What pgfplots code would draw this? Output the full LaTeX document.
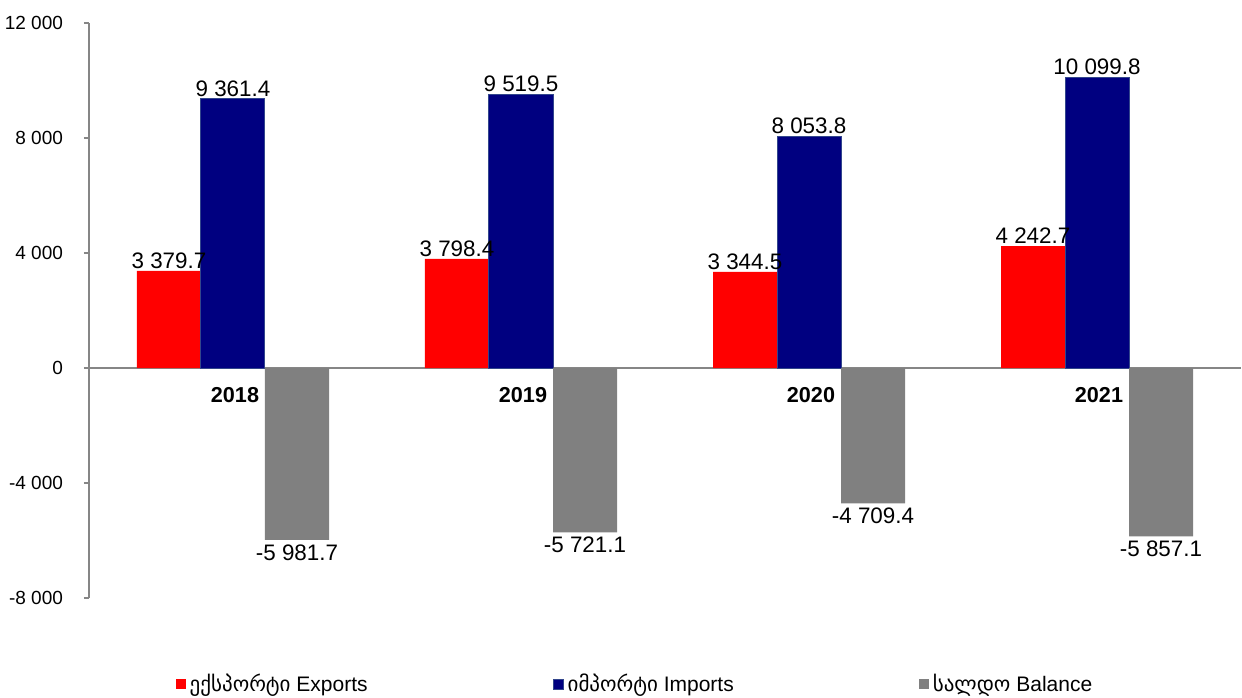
\documentclass[border=0pt]{standalone}
\usepackage{pgfplots}
\pgfplotsset{compat=1.18}
\usepackage{fontspec}
\setmainfont{Liberation Sans}
\newfontfamily\geo{DejaVu Sans}
\definecolor{expred}{RGB}{255,0,0}
\definecolor{impblue}{RGB}{0,0,128}
\definecolor{impedge}{RGB}{50,70,140}
\definecolor{balgray}{RGB}{128,128,128}
\definecolor{axgray}{RGB}{134,134,134}
\begin{document}
\begin{tikzpicture}
\useasboundingbox (0,0) rectangle (621pt,348.5pt);
\begin{axis}[
  at={(44.5pt,49.5pt)}, anchor=south west,
  scale only axis, width=576pt, height=287.5pt,
  xmin=-0.5, xmax=3.5, ymin=-8000, ymax=12000,
  axis x line=middle, axis y line=left,
  axis line style={draw=axgray, line width=0.8pt, -},
  ybar=0pt, bar width=32pt,
  xtick={0,1,2,3}, xticklabels={2018,2019,2020,2021},
  xticklabel style={font=\fontsize{10.8}{12}\selectfont\bfseries, yshift=-3.5pt, xshift=1pt},
  major x tick style={draw=none},
  scaled y ticks=false,
  ytick={-8000,-4000,0,4000,8000,12000},
  yticklabels={-8 000,-4 000,0,4 000,8 000,12 000},
  yticklabel style={font=\fontsize{9.5}{11}\selectfont, xshift=-7pt},
  tick align=outside, major tick length=2.5pt,
  ytick style={draw=axgray, line width=0.8pt},
  nodes near coords, point meta=explicit symbolic,
  every node near coord/.append style={font=\fontsize{11.2}{13}\selectfont, inner sep=1pt, black},
  legend columns=3,
  legend cell align=left,
  legend style={at={(0.4748,-0.1496)}, anchor=center, draw=none, fill=none,
    font=\fontsize{10.5}{12}\selectfont,
    /tikz/every even column/.append style={column sep=90.5pt}},
  legend image code/.code={\fill[#1] (0pt,-2.5pt) rectangle (5pt,2.5pt);},
]
\addplot[fill=expred, draw=none] coordinates {
  (0,3379.7) [3 379.7]
  (1,3798.4) [3 798.4]
  (2,3344.5) [3 344.5]
  (3,4242.7) [4 242.7]
};
\addlegendentry{{\geo ექსპორტი} Exports}
\addplot[fill=impblue, draw=impedge, line width=0.5pt] coordinates {
  (0,9361.4) [9 361.4]
  (1,9519.5) [9 519.5]
  (2,8053.8) [8 053.8]
  (3,10099.8) [10 099.8]
};
\addlegendentry{{\geo იმპორტი} Imports}
\addplot[fill=balgray, draw=none,
  every node near coord/.append style={anchor=north, inner sep=2pt}] coordinates {
  (0,-5981.7) [-5 981.7]
  (1,-5721.1) [-5 721.1]
  (2,-4709.4) [-4 709.4]
  (3,-5857.1) [-5 857.1]
};
\addlegendentry{{\geo სალდო} Balance}
\end{axis}
\end{tikzpicture}
\end{document}
